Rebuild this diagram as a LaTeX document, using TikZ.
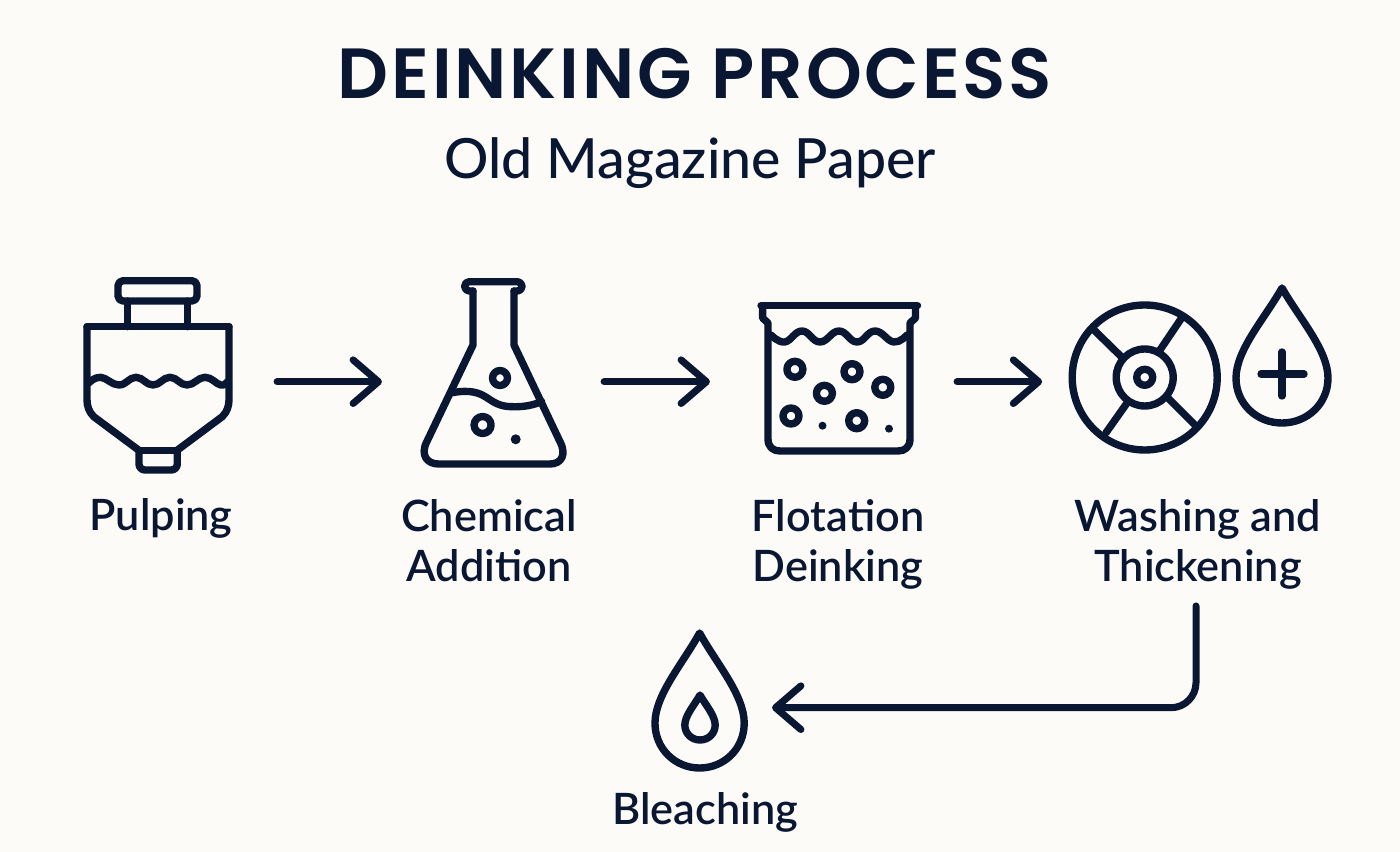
\documentclass[tikz,border=0pt]{standalone}
\usepackage{fontspec}
\setmainfont{Poppins}
\newfontfamily\labelfont{Lato Semibold}
\newfontfamily\subtitlefont{Lato Medium}
\newfontfamily\titlefont[LetterSpace=4]{Poppins SemiBold}
\usepackage{xcolor,tikz}
\usetikzlibrary{arrows.meta,calc}
\definecolor{ink}{HTML}{0A1733}
\definecolor{paper}{HTML}{FDFBF8}
\tikzset{>={Straight Barb[length=7.2pt,width=12.4pt,round]}}
\tikzset{
  icon/.style={ink,line width=2.1pt,line cap=round,line join=round},
  flow/.style={ink,line width=2pt,line cap=round,line join=round,->},
  iconbox/.style={inner sep=0pt,outer sep=0pt,minimum height=1cm},
  steplabel/.style={ink,align=center,inner sep=0pt,anchor=base,font=\labelfont\fontsize{12.3}{14.2}\selectfont},
}
\newcommand{\dropoutline}{(0,-90) .. controls (-17,-60) and (-46,-28) .. (-46,0) .. controls (-46,26) and (-25,45) .. (0,45) .. controls (25,45) and (46,26) .. (46,0) .. controls (46,-28) and (17,-60) .. (0,-90) -- cycle}
\begin{document}
\begin{tikzpicture}[x=0.01cm,y=-0.01cm]
\useasboundingbox (0,0) rectangle (1400,852);
\fill[paper] (0,0) rectangle (1400,852);
% titles
\node[ink,anchor=base,inner sep=0pt,font=\titlefont\fontsize{20.2}{25}\selectfont] (title) at (695,99) {DEINKING PROCESS};
\node[ink,anchor=base,inner sep=0pt,font=\subtitlefont\fontsize{15.75}{18}\selectfont] (subtitle) at (690,179) {Old Magazine Paper};
% boxes the arrows run between
\node[iconbox,minimum width=2.31cm] (pulper) at (161.5,381.7) {};
\node[iconbox,minimum width=2.22cm] (flask) at (493,381.7) {};
\node[iconbox,minimum width=2.47cm] (cell) at (833.5,381.7) {};
\node[iconbox,minimum width=2.05cm] (washer) at (1144.7,381.7) {};
\node[iconbox,minimum width=1.44cm] (bleach) at (700,707.7) {};
\coordinate (washout) at (1196,606);
% pulper
\draw[icon,rounded corners=0.05cm] (118,280.7) rectangle (197,301);
\draw[icon] (127.6,301)--(127.6,326.7);
\draw[icon] (187.5,301)--(187.5,326.7);
\draw[icon] (87,326.7)--(229,326.7);
\draw[icon] (139.4,450.7)--(93.8,416.7) .. controls (89,412) and (87,406) .. (87,400)--(87,326.7);
\draw[icon] (176.6,450.7)--(222.2,416.7) .. controls (227,412) and (229,406) .. (229,400)--(229,326.7);
\draw[icon] (139.4,450.7)--(176.6,450.7);
\draw[icon,rounded corners=0.06cm] (139,450.7)--(139,470)--(177.3,470)--(177.3,450.7);
\draw[icon,smooth,tension=0.75] plot coordinates {(88.7,383) (100.6,377.3) (119,385) (136,377.3) (153,385) (170,377.3) (187,385) (205,377.3) (220.6,385) (227,382)};
% flask
\draw[icon,rounded corners=0.045cm] (473,291)--(464.7,291)--(464.7,281.7)--(522,281.7)--(522,291)--(514,291);
\draw[icon] (473,291)--(473,345)--(426.8,441.7) .. controls (420,455) and (427,464) .. (438.6,464)--(550,464) .. controls (561,464) and (567,455) .. (560,441.7)--(514,345)--(514,291);
\draw[icon] (452,392.7) .. controls (490,386) and (485,407) .. (513,406.7) .. controls (525,407) and (533,405) .. (541.7,401.7);
\draw[icon] (500,378) circle[radius=7.5];
\draw[icon] (482.6,425) circle[radius=8.5];
\fill[ink] (515.7,439.3) circle[radius=5];
% flotation cell
\draw[icon] (761,305.7)--(917.5,305.7);
\draw[icon] (762.6,305.7)--(762.6,318)--(768,323)--(768,439) .. controls (768,447) and (773,451) .. (780,451)--(898,451) .. controls (905,451) and (910,447) .. (910,439)--(910,323)--(915.5,318)--(915.5,305.7);
\draw[icon,smooth,tension=0.75] plot coordinates {(771,335) (784.7,342) (802,331) (820,342) (839,331) (857,342) (875,331) (893.7,342) (907,335)};
\foreach \cx/\cy in {794.9/369.3,852/371.7,824.4/393.3,882.8/387.3,791/416,856.7/420.7}
  \draw[icon] (\cx,\cy) circle[radius=8];
\fill[ink] (822.5,425.7) circle[radius=4];
\fill[ink] (889,428.7) circle[radius=4];
% washer wheel
\draw[icon] (1144.7,377.5) circle[radius=72.5];
\draw[icon] (1144.7,377.5) circle[radius=28.5];
\draw[icon] (1144.7,377.3) circle[radius=8];
\draw[icon] (1094,330)--(1121.3,356.7);
\draw[icon] (1181.6,318)--(1160,350);
\draw[icon] (1127,403)--(1105.8,433);
\draw[icon] (1168,398)--(1195,425);
% drop with plus
\begin{scope}[shift={(1282,378)}]
\draw[icon] \dropoutline;
\end{scope}
\draw[icon] (1261,374)--(1304,374);
\draw[icon] (1282,352)--(1282,396);
% bleaching drops
\begin{scope}[shift={(699.6,723)},xscale=0.97]
\draw[icon] \dropoutline;
\end{scope}
\begin{scope}[shift={(700,725)},xscale=0.33,yscale=0.333]
\draw[icon] \dropoutline;
\end{scope}
% arrows
\draw[flow] (pulper)--(flask);
\draw[flow] (flask)--(cell);
\draw[flow] (cell)--(washer);
\draw[flow,rounded corners=0.25cm] (washout)|-(bleach);
% labels
\node[steplabel] (pulping) at (161,531) {Pulping};
\node[steplabel] (chemical) at (489,581) {Chemical\\Addition};
\node[steplabel] (flotation) at (838,581) {Flotation\\Deinking};
\node[steplabel] (washing) at (1198,581) {Washing and\\Thickening};
\node[steplabel] (bleaching) at (705,824) {Bleaching};
\end{tikzpicture}
\end{document}
